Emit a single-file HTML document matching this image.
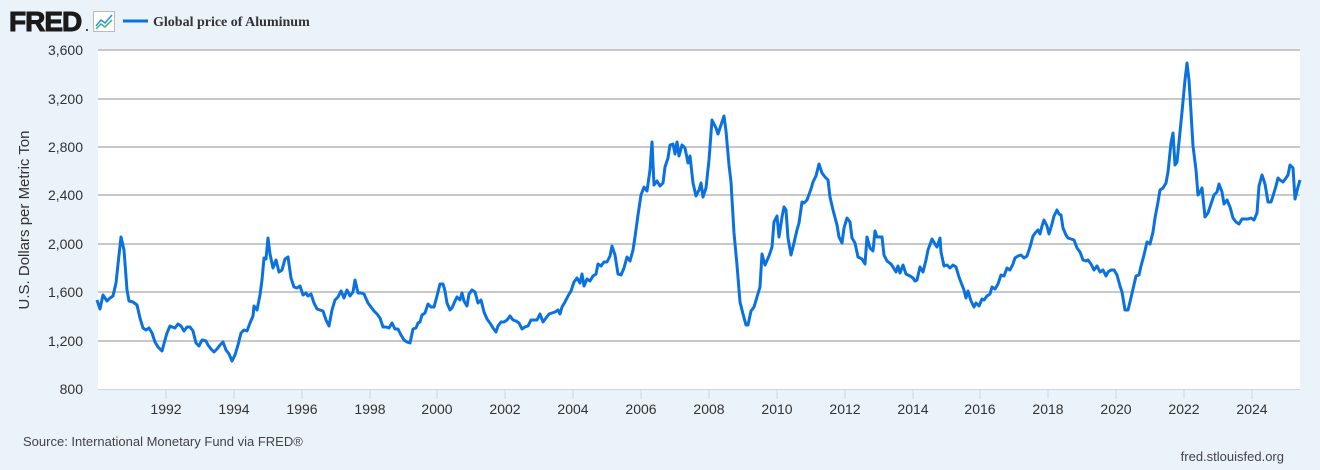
<!DOCTYPE html>
<html><head><meta charset="utf-8"><style>
html,body{margin:0;padding:0;background:#eaf2fa;}
body{width:1320px;height:465px;overflow:hidden;font-family:"Liberation Sans",sans-serif;}
</style></head><body>
<svg width="1320" height="465" xmlns="http://www.w3.org/2000/svg">
<rect width="1320" height="465" fill="#eaf2fa"/>
<rect x="98" y="50" width="1202" height="339" fill="#fff"/>
<g stroke="#c8c8c8" stroke-width="2">
<line x1="98" x2="1300" y1="50" y2="50"/>
<line x1="98" x2="1300" y1="99" y2="99"/>
<line x1="98" x2="1300" y1="147" y2="147"/>
<line x1="98" x2="1300" y1="195" y2="195"/>
<line x1="98" x2="1300" y1="244" y2="244"/>
<line x1="98" x2="1300" y1="292" y2="292"/>
<line x1="98" x2="1300" y1="341" y2="341"/>
</g>
<line x1="98" x2="1300" y1="389.5" y2="389.5" stroke="#ccd6eb" stroke-width="1"/>
<g stroke="#ccd6eb" stroke-width="1">
<line x1="166" x2="166" y1="389" y2="399"/><line x1="234" x2="234" y1="389" y2="399"/><line x1="302" x2="302" y1="389" y2="399"/><line x1="370" x2="370" y1="389" y2="399"/><line x1="437" x2="437" y1="389" y2="399"/><line x1="505" x2="505" y1="389" y2="399"/><line x1="573" x2="573" y1="389" y2="399"/><line x1="641" x2="641" y1="389" y2="399"/><line x1="709" x2="709" y1="389" y2="399"/><line x1="777" x2="777" y1="389" y2="399"/><line x1="845" x2="845" y1="389" y2="399"/><line x1="913" x2="913" y1="389" y2="399"/><line x1="980" x2="980" y1="389" y2="399"/><line x1="1048" x2="1048" y1="389" y2="399"/><line x1="1116" x2="1116" y1="389" y2="399"/><line x1="1184" x2="1184" y1="389" y2="399"/><line x1="1252" x2="1252" y1="389" y2="399"/>
</g>
<g font-size="14" fill="#333" text-anchor="end">
<text x="83" y="55">3,600</text><text x="83" y="104">3,200</text><text x="83" y="152">2,800</text><text x="83" y="200">2,400</text><text x="83" y="249">2,000</text><text x="83" y="297">1,600</text><text x="83" y="346">1,200</text><text x="83" y="394">800</text>
</g>
<g font-size="14" fill="#333" text-anchor="middle">
<text x="166" y="414">1992</text><text x="234" y="414">1994</text><text x="302" y="414">1996</text><text x="370" y="414">1998</text><text x="437" y="414">2000</text><text x="505" y="414">2002</text><text x="573" y="414">2004</text><text x="641" y="414">2006</text><text x="709" y="414">2008</text><text x="777" y="414">2010</text><text x="845" y="414">2012</text><text x="913" y="414">2014</text><text x="980" y="414">2016</text><text x="1048" y="414">2018</text><text x="1116" y="414">2020</text><text x="1184" y="414">2022</text><text x="1252" y="414">2024</text>
</g>
<text transform="translate(29,220) rotate(-90)" font-size="15" fill="#333" text-anchor="middle">U.S. Dollars per Metric Ton</text>
<polyline fill="none" stroke="#0a72e0" stroke-width="3" stroke-linejoin="round" points="97,300 100,309 103,295 107,301 110,298 113,296 116,283 119,255 121,237 124,250 127,290 129,301 133,302 137,305 140,318 143,328 146,330 149,328 152,333 155,342 158,347 162,351 165,340 167,333 170,326 172,327 175,328 178,324 181,326 184,331 187,327 190,327 193,331 196,343 199,346 202,340 206,341 208,345 211,349 214,352 217,349 220,345 223,342 226,350 229,354 232,361 235,355 238,345 241,333 244,330 247,331 250,323 253,316 254,306 257,310 260,295 262,280 264,258 266,259 268,238 270,254 273,268 276,260 279,272 282,270 285,259 288,257 291,278 294,287 297,288 300,286 303,295 306,293 308,296 311,294 314,303 317,309 320,310 323,311 326,320 329,326 332,310 335,300 338,297 341,291 344,298 347,290 350,296 353,292 355,280 358,293 361,293 364,294 368,303 371,307 374,311 377,314 380,318 383,327 386,327 389,328 392,323 395,329 398,329 401,335 404,340 407,342 410,343 413,329 416,328 418,323 420,322 422,315 425,313 428,304 431,307 434,307 437,296 440,284 443,284 445,291 447,303 450,310 452,308 455,301 457,297 460,300 462,293 464,301 467,306 469,294 472,290 475,292 478,303 481,300 484,312 487,319 490,323 493,328 496,332 498,326 501,322 504,322 507,320 510,316 513,320 516,321 519,323 522,329 525,327 528,326 531,320 534,320 537,320 540,314 543,322 546,318 549,314 552,313 555,312 558,310 560,314 562,307 565,302 568,296 571,291 574,282 577,278 580,283 582,274 584,286 587,279 590,281 593,276 596,274 598,264 601,266 604,262 607,262 610,256 612,246 615,255 618,274 621,275 624,268 627,257 630,261 633,250 635,237 638,215 641,195 644,187 647,191 650,170 652,142 654,185 657,181 660,186 663,183 665,167 668,158 670,145 673,144 675,154 677,142 679,156 682,145 685,148 688,163 690,156 693,183 696,196 699,190 701,183 703,197 706,188 709,160 712,120 714,124 716,128 718,134 720,128 722,122 724,116 726,131 729,165 731,182 734,233 737,265 740,302 743,314 746,325 748,325 751,311 754,307 757,297 760,287 762,254 765,265 769,256 772,247 774,222 777,216 779,237 782,217 784,207 786,210 788,238 791,255 793,247 797,230 799,223 802,202 804,203 807,200 811,189 813,182 816,176 819,164 822,173 825,177 828,180 830,197 833,210 837,225 839,237 842,243 844,228 847,218 850,222 852,238 855,243 858,257 862,259 865,264 867,237 870,248 873,251 875,231 877,237 882,237 884,255 887,261 891,264 893,267 896,272 898,266 900,273 903,265 906,274 910,276 913,278 915,281 917,280 920,267 923,272 926,260 928,250 932,239 935,244 937,247 940,238 941,252 944,266 947,265 950,268 953,265 956,267 959,277 962,285 964,290 966,298 968,291 971,301 974,307 976,303 979,306 982,299 984,300 987,296 990,294 992,287 995,289 998,284 1001,275 1004,276 1007,268 1010,270 1013,264 1015,258 1018,256 1021,255 1024,258 1027,256 1030,247 1033,236 1036,232 1038,230 1040,234 1042,226 1044,220 1047,226 1049,234 1052,224 1054,216 1057,210 1059,214 1061,215 1063,228 1066,235 1068,238 1071,239 1074,240 1077,248 1080,252 1083,260 1086,261 1088,260 1091,264 1094,270 1097,266 1100,272 1103,270 1106,276 1108,272 1111,270 1114,270 1117,275 1120,286 1122,292 1125,310 1128,310 1130,302 1133,289 1136,276 1139,275 1141,266 1144,255 1147,242 1150,244 1153,232 1155,218 1158,202 1160,190 1163,188 1166,183 1168,172 1171,143 1173,133 1175,165 1177,162 1179,142 1182,112 1185,80 1187,63 1189,80 1191,112 1193,146 1196,170 1198,195 1200,192 1202,188 1205,217 1208,213 1211,204 1214,195 1217,192 1219,184 1222,192 1224,204 1227,200 1230,207 1233,218 1236,222 1239,224 1242,219 1245,219 1248,219 1251,218 1254,220 1257,213 1259,186 1262,175 1265,184 1268,202 1271,202 1273,196 1276,186 1278,178 1280,180 1283,182 1286,178 1288,175 1290,165 1293,168 1295,199 1298,187 1300,180"/>
<text x="9" y="31" font-size="28" font-weight="bold" fill="#1a1a1a" stroke="#1a1a1a" stroke-width="1" style="letter-spacing:-1px">FRED</text>
<circle cx="87" cy="30" r="1" fill="#1a1a1a"/>
<rect x="93.5" y="11.5" width="21" height="20" fill="#fff" stroke="#bbb"/>
<polyline points="96,26 101,20 105,23 112,15" fill="none" stroke="#2a8fd8" stroke-width="1.5"/>
<polyline points="96,29 101,24 105,27 112,20" fill="none" stroke="#37b58a" stroke-width="1.5"/>
<line x1="123" x2="148" y1="21" y2="21" stroke="#0a72e0" stroke-width="3"/>
<text x="153" y="26" font-family="Liberation Serif,serif" font-weight="bold" font-size="14" fill="#333">Global price of Aluminum</text>
<text x="23" y="446" font-size="13" fill="#444">Source: International Monetary Fund via FRED®</text>
<text x="1284" y="461" font-size="13" fill="#444" text-anchor="end">fred.stlouisfed.org</text>
</svg>
</body></html>
